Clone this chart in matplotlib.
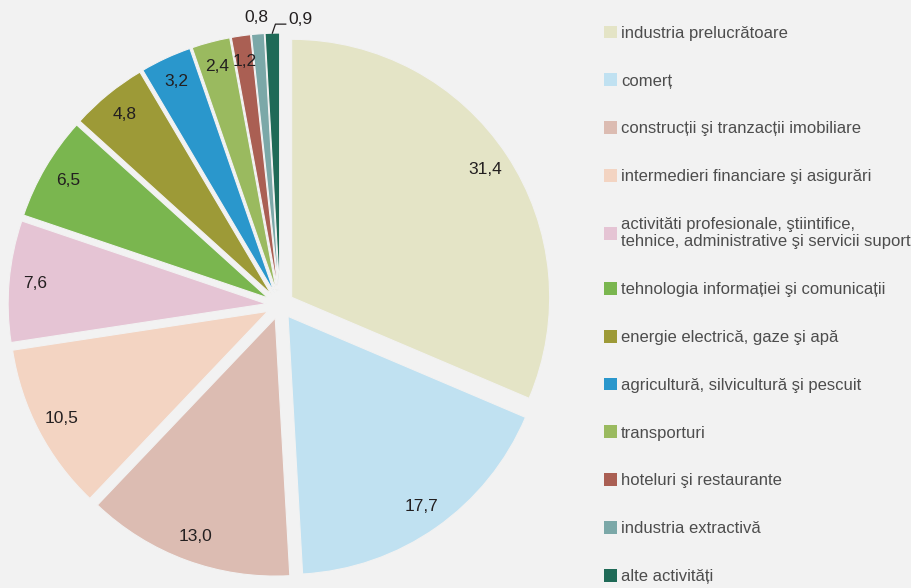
import numpy as np
import matplotlib
matplotlib.use("Agg")
import matplotlib.pyplot as plt
from matplotlib.patches import Patch

categorii = ["industria prelucrătoare",
             "comerț",
             "construcții şi tranzacții imobiliare",
             "intermedieri financiare şi asigurări",
             "activităti profesionale, ştiintifice,\ntehnice, administrative şi servicii suport",
             "tehnologia informației şi comunicații",
             "energie electrică, gaze şi apă",
             "agricultură, silvicultură şi pescuit",
             "transporturi",
             "hoteluri şi restaurante",
             "industria extractivă",
             "alte activități"]
valori = [31.4, 17.7, 13.0, 10.5, 7.6, 6.5, 4.8, 3.2, 2.4, 1.2, 0.8, 0.9]
culori = ["#e4e4c6", "#c0e1f1", "#dcbcb2", "#f3d4c2", "#e5c4d4", "#7ab64f",
          "#9d9a37", "#2a97cc", "#9aba5f", "#aa5f53", "#7ba8a8", "#1f6a57"]

fundal = "#f2f2f2"
plt.rcParams["font.family"] = ["Liberation Sans Narrow", "Liberation Sans", "DejaVu Sans"]

fig = plt.figure(figsize=(9.12, 5.88), dpi=100, facecolor=fundal)
ax = fig.add_axes([-0.0183, -0.0233, 0.6507, 1.0092])
ax.set_facecolor(fundal)

wedges, _ = ax.pie(valori, colors=culori, startangle=90, counterclock=False,
                   explode=[0.054] * len(valori),
                   wedgeprops=dict(edgecolor=fundal, linewidth=0.8))
ax.set_xlim(-1.15, 1.15)
ax.set_ylim(-1.15, 1.15)
ax.set_aspect("equal")
ax.axis("off")

# etichete cu valori
for i, (w, v) in enumerate(zip(wedges, valori)):
    mid = np.deg2rad((w.theta1 + w.theta2) / 2)
    cx, cy = w.center
    txt = f"{v:.1f}".replace(".", ",")
    if i == len(valori) - 2:
        d = 1.065
        ax.text(cx + d * np.cos(mid), cy + d * np.sin(mid), txt,
                ha="center", va="center", fontsize=12.5, color="#231f20")
    elif i == len(valori) - 1:
        x0, y0 = cx + np.cos(mid), cy + np.sin(mid)
        x1, y1 = x0 + 0.012, y0 + 0.035
        x2, y2 = x1 + 0.04, y1
        ax.plot([x0, x1, x2], [y0, y1, y2], color="#231f20", lw=0.9, clip_on=False)
        ax.text(x2 + 0.012, y2 + 0.018, txt, ha="left", va="center",
                fontsize=12.5, color="#231f20")
    else:
        d = 0.9
        ax.text(cx + d * np.cos(mid), cy + d * np.sin(mid), txt,
                ha="center", va="center", fontsize=12.5, color="#231f20")

handles = [Patch(facecolor=c, edgecolor="none") for c in culori]
leg = fig.legend(handles, categorii, loc="upper left", bbox_to_anchor=(0.646, 0.982),
                 frameon=False, fontsize=12, labelspacing=1.96,
                 handlelength=0.8, handleheight=0.8, handletextpad=0.2,
                 labelcolor="#4d4d4d")

fig.savefig("out.png", dpi=100, facecolor=fundal)
